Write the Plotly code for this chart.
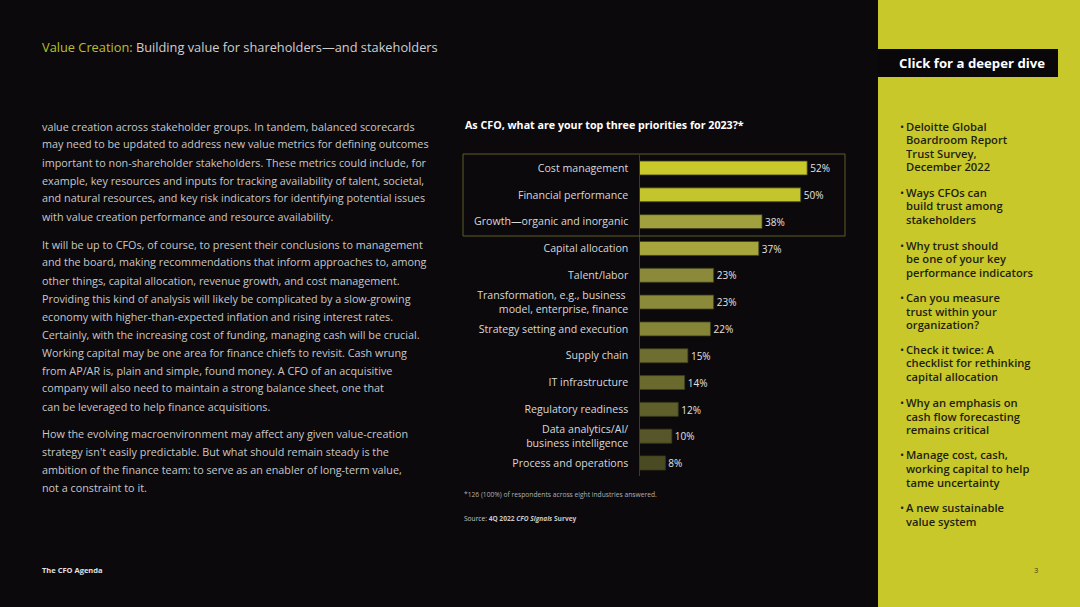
import plotly.graph_objects as go

W, H = 1080, 607

# ---------------- data ----------------
categories = [
    "Cost management",
    "Financial performance",
    "Growth—organic and inorganic",
    "Capital allocation",
    "Talent/labor",
    "Transformation, e.g., business <br>model, enterprise, finance",
    "Strategy setting and execution",
    "Supply chain",
    "IT infrastructure",
    "Regulatory readiness",
    "Data analytics/AI/<br>business intelligence",
    "Process and operations",
]
values = [52, 50, 38, 37, 23, 23, 22, 15, 14, 12, 10, 8]
value_labels = [f"{v}%" for v in values]

bar_colors = ["#c9c92b", "#c4c42d", "#a0a03e", "#a6a63c", "#8a8a3a", "#8a8a3a",
              "#858538", "#6e6e30", "#6a6a2f", "#5f5f2b", "#56562a", "#4a4a23"]

chart_title = "As CFO, what are your top three priorities for 2023?*"
footnote = "*126 (100%) of respondents across eight industries answered."
source = "Source: <b>4Q 2022 <i>CFO Signals</i> Survey</b>"

header_accent = "Value Creation:"
header_rest = " Building value for shareholders—and stakeholders"

body_par1 = [
    "value creation across stakeholder groups. In tandem, balanced scorecards",
    "may need to be updated to address new value metrics for defining outcomes",
    "important to non-shareholder stakeholders. These metrics could include, for",
    "example, key resources and inputs for tracking availability of talent, societal,",
    "and natural resources, and key risk indicators for identifying potential issues",
    "with value creation performance and resource availability.",
]
body_par2 = [
    "It will be up to CFOs, of course, to present their conclusions to management",
    "and the board, making recommendations that inform approaches to, among",
    "other things, capital allocation, revenue growth, and cost management.",
    "Providing this kind of analysis will likely be complicated by a slow-growing",
    "economy with higher-than-expected inflation and rising interest rates.",
    "Certainly, with the increasing cost of funding, managing cash will be crucial.",
    "Working capital may be one area for finance chiefs to revisit. Cash wrung",
    "from AP/AR is, plain and simple, found money. A CFO of an acquisitive",
    "company will also need to maintain a strong balance sheet, one that",
    "can be leveraged to help finance acquisitions.",
]
body_par3 = [
    "How the evolving macroenvironment may affect any given value-creation",
    "strategy isn't easily predictable. But what should remain steady is the",
    "ambition of the finance team: to serve as an enabler of long-term value,",
    "not a constraint to it.",
]

panel_button = "Click for a deeper dive"
panel_items = [
    ["Deloitte Global", "Boardroom Report", "Trust Survey,", "December 2022"],
    ["Ways CFOs can", "build trust among", "stakeholders"],
    ["Why trust should", "be one of your key", "performance indicators"],
    ["Can you measure", "trust within your", "organization?"],
    ["Check it twice: A", "checklist for rethinking", "capital allocation"],
    ["Why an emphasis on", "cash flow forecasting", "remains critical"],
    ["Manage cost, cash,", "working capital to help", "tame uncertainty"],
    ["A new sustainable", "value system"],
]
footer_left = "The CFO Agenda"
page_number = "3"

# ---------------- helpers ----------------
def px(x):
    return x / W

def py(y):
    return 1 - y / H

BG = "#0c090c"
PANEL = "#c8c82a"
FONT = "Open Sans"

annotations = []

def add_text(x, y, text, size, color, anchor="left", weight=None):
    f = dict(family=FONT, size=size, color=color)
    if weight:
        f["weight"] = weight
    annotations.append(dict(
        x=px(x), y=py(y), xref="paper", yref="paper", text=text,
        showarrow=False, xanchor=anchor, yanchor="middle", font=f,
        align=anchor if anchor != "center" else "center",
    ))

# ---------------- figure ----------------
fig = go.Figure()
fig.add_trace(go.Bar(
    x=values, y=categories, orientation="h",
    marker=dict(color=bar_colors, line=dict(color="#3e3e1c", width=0.8)),
    text=value_labels, textposition="outside", cliponaxis=False,
    textfont=dict(family=FONT, size=10.8, color="#e2e2e2"),
    width=0.52, hoverinfo="skip",
))

axis_x0 = 639.5
px_per_pct = 3.225
xmax = 60
row_top, row_bottom = 154.6, 476.4

fig.update_layout(
    width=W, height=H,
    margin=dict(l=0, r=0, t=0, b=0),
    paper_bgcolor=BG, plot_bgcolor="rgba(0,0,0,0)",
    showlegend=False,
    xaxis=dict(domain=[px(axis_x0), px(axis_x0 + xmax * px_per_pct)], range=[0, xmax],
               showgrid=False, zeroline=False, showticklabels=False, showline=False),
    yaxis=dict(domain=[py(row_bottom), py(row_top)], autorange="reversed",
               showgrid=False, zeroline=False, showline=True, linecolor="#3c3c1e", linewidth=1.2,
               ticks="", ticklabelstandoff=8,
               tickfont=dict(family=FONT, size=10.6, color="#d8d8d8")),
)

shapes = []
# right panel
shapes.append(dict(type="rect", xref="paper", yref="paper", x0=px(878), x1=1, y0=0, y1=1,
                   fillcolor=PANEL, line=dict(width=0), layer="below"))
# button box
shapes.append(dict(type="rect", xref="paper", yref="paper", x0=px(878), x1=px(1058),
                   y0=py(77), y1=py(49), fillcolor="#0a070a", line=dict(width=0)))
# highlight box around top three
shapes.append(dict(type="rect", xref="paper", yref="paper", x0=px(463), x1=px(845),
                   y0=py(236), y1=py(154), fillcolor="rgba(0,0,0,0)",
                   line=dict(color="#5e5e22", width=1)))
fig.update_layout(shapes=shapes)

# header
add_text(40, 47, f"<span style='color:#b7c02a'>{header_accent}</span>{header_rest}", 12.8, "#cfcfcf")

# body text
BODY = 10.8
BODY_COLOR = "#c8c8c8"
for i, line in enumerate(body_par1):
    add_text(40, 126 + 18 * i, line, BODY, BODY_COLOR)
for i, line in enumerate(body_par2):
    add_text(40, 244 + 18 * i, line, BODY, BODY_COLOR)
for i, line in enumerate(body_par3):
    add_text(40, 433 + 18 * i, line, BODY, BODY_COLOR)

# chart title / notes
add_text(463, 125, f"<b>{chart_title}</b>", 10.7, "#ffffff")
add_text(462, 494, footnote, 6.7, "#b0b0b0")
add_text(462, 518, source, 6.6, "#c8c8c8")

# footer
add_text(40, 570, f"<b>{footer_left}</b>", 7.5, "#e0e0e0")
add_text(1036, 570, page_number, 7.5, "#3a3a18", anchor="center")

# panel
add_text(972, 63, f"<b>{panel_button}</b>", 13.2, "#ffffff", anchor="center")
item_starts = [126, 192.3, 245, 297.7, 349.3, 402.7, 455, 507.7]
for start, lines in zip(item_starts, panel_items):
    add_text(898, start, "•", 11, "#1e1e10")
    for j, line in enumerate(lines):
        add_text(904, start + 13.5 * j, line, 11.2, "#1e1e10", weight=600)

fig.update_layout(annotations=annotations)
fig.write_html("out.html", config={"displayModeBar": False},
               post_script="document.body.style.margin='0';")
